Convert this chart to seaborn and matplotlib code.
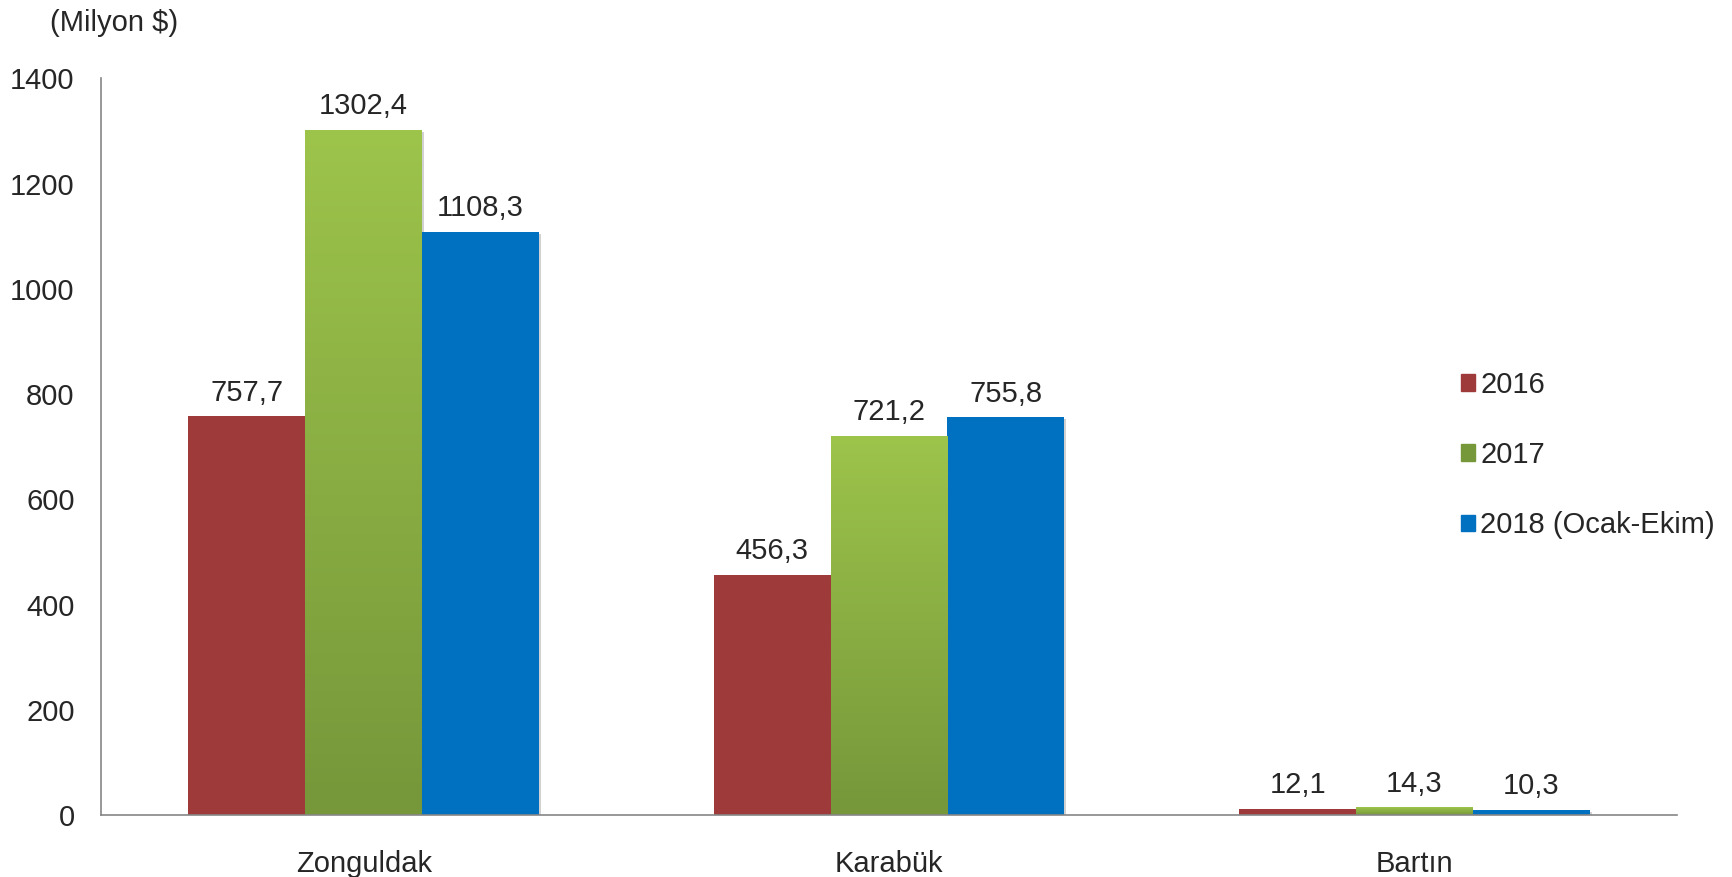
import matplotlib

matplotlib.use("Agg")

import matplotlib.pyplot as plt
import matplotlib.patheffects as pe
import numpy as np
import pandas as pd
import seaborn as sns
from matplotlib.colors import LinearSegmentedColormap
from matplotlib.patches import Rectangle

provinces = ["Zonguldak", "Karabük", "Bartın"]
years = ["2016", "2017", "2018 (Ocak-Ekim)"]
values_2016 = [757.7, 456.3, 12.1]
values_2017 = [1302.4, 721.2, 14.3]
values_2018 = [1108.3, 755.8, 10.3]
y_ticks = [0, 200, 400, 600, 800, 1000, 1200, 1400]

RED = "#9E3B3A"
GREEN_TOP = "#9DC44B"
GREEN_BOTTOM = "#76973A"
BLUE = "#0070C0"
AXIS_GRAY = "#868686"
FS = 21

rows = []
for year, vals in zip(years, [values_2016, values_2017, values_2018]):
    for prov, v in zip(provinces, vals):
        rows.append({"province": prov, "year": year, "value": v})
df = pd.DataFrame(rows)

sns.set_style("white")
plt.rcParams["font.family"] = ["Liberation Sans", "DejaVu Sans"]

fig = plt.figure(figsize=(17.32, 8.77), dpi=100)
ax = fig.add_axes([0.0583, 0.0707, 0.910, 0.840])

sns.barplot(
    data=df, x="province", y="value", hue="year",
    palette=[RED, GREEN_TOP, BLUE], width=0.667, saturation=1,
    edgecolor="none", linewidth=0, legend=False, ax=ax,
)

# light drop shadow on the bars, vertical gradient on the 2017 series
shadow = [pe.SimplePatchShadow(offset=(1.5, -1.5), shadow_rgbFace="#000000", alpha=0.18), pe.Normal()]
green_cmap = LinearSegmentedColormap.from_list("g", [GREEN_BOTTOM, GREEN_TOP])
grad = np.linspace(0, 1, 256).reshape(-1, 1)

for ci, container in enumerate(ax.containers):
    for bar in container:
        bar.set_path_effects(shadow)
        x0, y0 = bar.get_x(), bar.get_y()
        w, h = bar.get_width(), bar.get_height()
        if ci == 1:
            im = ax.imshow(grad, cmap=green_cmap, origin="lower", aspect="auto",
                           extent=(x0, x0 + w, y0, y0 + h), zorder=bar.get_zorder() + 0.1)
            im.set_clip_path(bar)
    labels = [f"{v:.1f}".replace(".", ",") for v in container.datavalues]
    ax.bar_label(container, labels=labels, padding=7, fontsize=FS)

ax.set_xlim(-0.5, 2.5)
ax.set_ylim(0, 1400)
ax.set_yticks(y_ticks)
ax.set_yticklabels([str(t) for t in y_ticks], fontsize=FS)
ax.set_xticks([0, 1, 2])
ax.set_xticklabels(provinces, fontsize=FS)
ax.set_xticks([-0.5, 0.5, 1.5, 2.5], minor=True)
ax.tick_params(axis="x", which="major", length=0, pad=25)
ax.tick_params(axis="x", which="minor", length=7, width=1.2, color=AXIS_GRAY, direction="out")
ax.tick_params(axis="y", length=8, width=1.2, color=AXIS_GRAY, direction="out", pad=11)
ax.set_xlabel("")
ax.set_ylabel("")

for side in ["top", "right"]:
    ax.spines[side].set_visible(False)
for side in ["left", "bottom"]:
    ax.spines[side].set_color(AXIS_GRAY)
    ax.spines[side].set_linewidth(1.2)

fig.text(0.029, 0.99, "(Milyon $)", fontsize=FS, ha="left", va="top")

handles = [Rectangle((0, 0), 1, 1, color=c) for c in [RED, GREEN_BOTTOM, BLUE]]
ax.legend(handles, years, loc="upper left", bbox_to_anchor=(0.835, 0.594),
          bbox_transform=fig.transFigure, frameon=False, fontsize=FS,
          handlelength=0.5, handleheight=0.5, handletextpad=0.17,
          labelspacing=1.45, borderpad=0)

fig.savefig("out.png", dpi=100)
